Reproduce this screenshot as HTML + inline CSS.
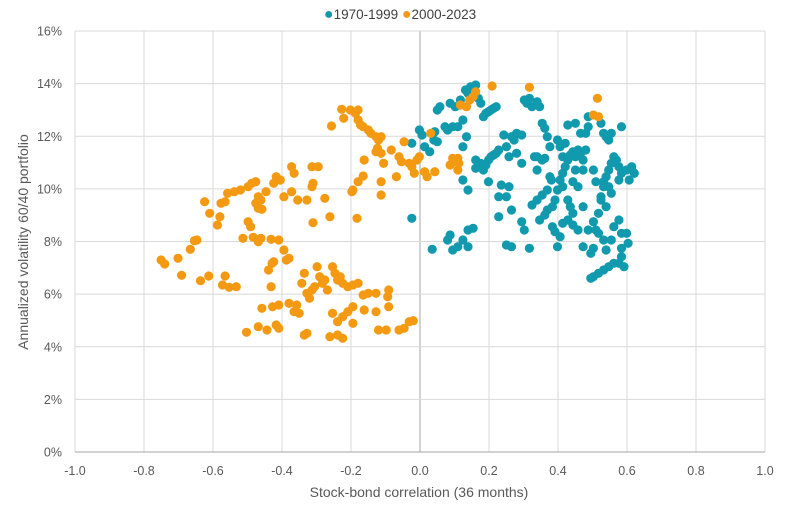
<!DOCTYPE html>
<html><head><meta charset="utf-8"><style>
html,body{margin:0;padding:0;background:#fff;}
svg text{font-family:"Liberation Sans",sans-serif;fill:#595959;}
</style></head><body>
<svg id="s" width="800" height="504" xmlns="http://www.w3.org/2000/svg">
<g id="grid"></g>
<g id="pts"></g>
<text x="400" y="19" font-size="13.5" text-anchor="middle"><tspan fill="#1199ad" font-size="16">●</tspan><tspan fill="#404040">1970-1999 </tspan><tspan fill="#f39a12" font-size="16">●</tspan><tspan fill="#404040">2000-2023</tspan></text>
<text x="419" y="497" font-size="14" text-anchor="middle" fill="#404040">Stock-bond correlation (36 months)</text>
<text transform="translate(28,242) rotate(-90)" font-size="14" text-anchor="middle" fill="#404040">Annualized volatility 60/40 portfolio</text>
</svg>
<script>
var NS="http://www.w3.org/2000/svg";
function el(p,t,a){var e=document.createElementNS(NS,t);for(var k in a)e.setAttribute(k,a[k]);p.appendChild(e);return e;}
var g=document.getElementById('grid');
var X0=75,X1=765,Y0=452,Y1=31;
for(var i=0;i<=10;i++){var x=X0+(X1-X0)*i/10;
 el(g,'line',{x1:x,x2:x,y1:Y1,y2:Y0,stroke:i==5?'#a6a6a6':'#d9d9d9','stroke-width':1});
 var t=el(g,'text',{x:x,y:475,'font-size':12.5,'text-anchor':'middle'});t.textContent=(-1+i*0.2).toFixed(1);}
for(var j=0;j<=8;j++){var y=Y0-(Y0-Y1)*j/8;
 el(g,'line',{x1:X0,x2:X1,y1:y,y2:y,stroke:j==0?'#a6a6a6':'#d9d9d9','stroke-width':1});
 var t=el(g,'text',{x:62,y:y+4.5,'font-size':12.5,'text-anchor':'end'});t.textContent=(j*2)+'%';}
var O=[[315,780],[322,792],[348,775],[355,826],[392,842],[400,605],[410,640],[408,828],[380,722],[372,748],[385,720],[425,675],[430,650],[432,610],[440,605],[445,580],[440,828],[435,855],[448,862],[462,860],[458,575],[470,570],[485,560],[492,550],[500,545],[505,590],[500,610],[510,600],[505,625],[512,628],[485,665],[490,680],[475,715],[495,712],[505,725],[510,715],[530,718],[545,720],[555,750],[565,775],[560,780],[532,790],[530,860],[512,925],[533,920],[545,915],[565,910],[580,915],[575,935],[585,940],[590,850],[595,820],[600,880],[605,895],[610,870],[615,860],[620,800],[625,830],[630,850],[635,840],[640,870],[650,800],[655,820],[660,840],[665,830],[670,850],[680,860],[690,855],[700,850],[710,885],[720,880],[735,880],[760,870],[758,890],[760,920],[735,935],[712,930],[690,920],[680,935],[670,950],[690,970],[660,965],[650,940],[645,1010],[660,1005],[670,1015],[600,1000],[595,1005],[545,985],[540,975],[522,990],[505,980],[482,997],[740,990],[755,990],[780,990],[790,985],[800,965],[808,962],[540,530],[548,540],[535,550],[520,575],[555,590],[570,575],[582,600],[600,600],[610,560],[612,550],[610,500],[622,500],[635,595],[645,650],[612,668],[570,500],[575,520],[525,810],[535,785],[698,655],[690,570],[688,575],[700,545],[710,528],[712,480],[648,378],[668,328],[672,355],[685,330],[695,340],[700,330],[700,360],[705,375],[710,380],[720,390],[725,400],[735,410],[740,420],[745,410],[738,445],[735,455],[745,460],[750,490],[745,545],[745,585],[765,450],[780,470],[785,485],[775,530],[790,425],[805,500],[810,520],[800,490],[815,480],[820,470],[842,400],[830,515],[835,530],[850,515],[880,495],[885,475],[895,475],[897,490],[900,315],[912,320],[918,300],[925,290],[930,275],[962,258],[1035,262],[1160,345],[1170,350],[1168,295],[895,510],[892,485]];
var T=[[805,430],[805,655],[820,390],[825,405],[830,440],[840,455],[848,420],[855,425],[850,395],[855,330],[860,320],[870,380],[875,390],[880,310],[885,380],[890,320],[895,380],[900,300],[905,360],[910,270],[915,280],[920,260],[930,255],[935,295],[940,310],[945,350],[950,340],[955,335],[960,330],[965,325],[970,320],[912,410],[905,440],[905,540],[915,570],[930,505],[930,480],[940,490],[945,510],[950,495],[955,480],[960,470],[965,465],[970,460],[975,450],[985,405],[990,440],[995,470],[1000,410],[1005,420],[1010,400],[1020,405],[955,545],[975,590],[980,555],[990,590],[995,560],[1000,630],[975,650],[1020,490],[1025,300],[1030,310],[1035,295],[1040,320],[1050,305],[1055,320],[1045,470],[1050,510],[1060,370],[1065,385],[1065,475],[1070,410],[1075,440],[1075,530],[1078,540],[1060,585],[1070,630],[1050,600],[1055,660],[1065,645],[1080,620],[1085,600],[1090,570],[1095,540],[1100,520],[1105,500],[1110,480],[1115,465],[1120,455],[1125,470],[1130,450],[1135,460],[1140,480],[1145,450],[1100,470],[1095,440],[1090,420],[1105,430],[1110,375],[1125,370],[1135,400],[1145,400],[1150,380],[1100,560],[1110,600],[1115,620],[1120,545],[1125,510],[1130,560],[1140,620],[1080,680],[1085,695],[1090,740],[1095,710],[1100,670],[1110,660],[1120,675],[1130,690],[1140,740],[1150,690],[1160,665],[1165,690],[1170,700],[1180,720],[1160,745],[1155,760],[1185,750],[1195,720],[1200,680],[1210,660],[1215,700],[1225,700],[1228,730],[1215,745],[1215,770],[1210,790],[1220,800],[1200,790],[1190,800],[1180,810],[1170,820],[1160,830],[1155,835],[1175,600],[1180,560],[1185,530],[1190,510],[1195,490],[1200,470],[1205,480],[1210,500],[1215,520],[1225,510],[1235,500],[1240,520],[1230,540],[1210,540],[1190,560],[1180,545],[1165,545],[1160,510],[1175,590],[1195,580],[1185,620],[1170,640],[1215,380],[1195,400],[1190,420],[1185,410],[1180,400],[1175,370],[1150,350],[1140,510],[1120,640],[1070,570],[1040,615],[845,748],[875,720],[885,750],[895,740],[880,705],[905,720],[915,690],[925,685],[915,740],[990,735],[1000,740],[1020,665],[1025,690],[1035,745],[1010,460],[1060,480],[1050,470]];
var p=document.getElementById('pts');
function draw(a,c){a.forEach(function(q){el(p,'circle',{cx:(q[0]/1.955).toFixed(1),cy:(q[1]/3).toFixed(1),r:4.6,fill:c});});}
draw(T,'#1199ad');draw(O,'#f39a12');
</script>
</body></html>
